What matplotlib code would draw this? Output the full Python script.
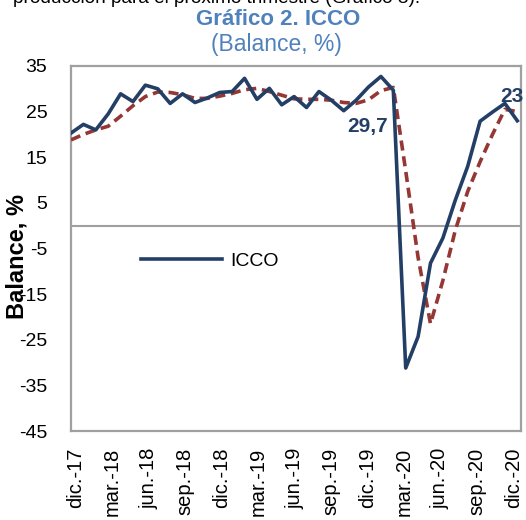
import numpy as np
import matplotlib
matplotlib.use("Agg")
import matplotlib.pyplot as plt
import matplotlib.transforms as mtransforms

plt.rcParams['font.family'] = ['Liberation Sans', 'DejaVu Sans']
plt.rcParams['axes.unicode_minus'] = False

# meses dic-17 ... dic-20
months = ['dic.-17', 'ene.-18', 'feb.-18', 'mar.-18', 'abr.-18', 'may.-18', 'jun.-18',
          'jul.-18', 'ago.-18', 'sep.-18', 'oct.-18', 'nov.-18', 'dic.-18',
          'ene.-19', 'feb.-19', 'mar.-19', 'abr.-19', 'may.-19', 'jun.-19',
          'jul.-19', 'ago.-19', 'sep.-19', 'oct.-19', 'nov.-19', 'dic.-19',
          'ene.-20', 'feb.-20', 'mar.-20', 'abr.-20', 'may.-20', 'jun.-20',
          'jul.-20', 'ago.-20', 'sep.-20', 'oct.-20', 'nov.-20', 'dic.-20']

# ICCO (balance, %)
icco = [20.3, 22.2, 21.0, 24.5, 28.9, 27.2, 30.8, 30.0, 26.8, 28.9, 27.0, 28.0, 29.2,
        29.4, 32.3, 27.7, 30.1, 26.5, 28.3, 25.9, 29.4, 27.5, 25.2, 27.5, 30.4,
        32.7, 29.7, -31.2, -24.3, -8.2, -2.7, 5.6, 13.0, 22.9, 24.9, 26.8, 23.0]

# media movil (linea discontinua)
icco_mm = [18.8, 20.0, 21.0, 21.8, 24.0, 26.3, 28.3, 29.3, 29.2, 28.7, 27.9, 27.9, 28.4,
           29.0, 29.8, 30.1, 29.4, 28.6, 27.8, 27.7, 27.7, 27.5, 27.0, 26.8, 27.6,
           29.6, 30.3, 12.0, -7.0, -21.5, -12.0, -1.0, 7.5, 14.0, 20.0, 25.5, 25.0]

navy = '#243F66'
red = '#953735'
blue_title = '#4F81BD'
grey = '#A0A0A0'

fig = plt.figure(figsize=(5.26, 5.2), dpi=100)
ax = fig.add_axes([71/526, 1-431/520, 450/526, 365/520])

x = np.arange(len(months))
ax.plot(x, icco_mm, color=red, lw=2.6, dashes=(2.8, 1.6), dash_capstyle='butt', zorder=3)
ax.plot(x, icco, color=navy, lw=2.6, solid_joinstyle='round', label='ICCO', zorder=4)

ax.axhline(0, color=grey, lw=1.5, zorder=1)

ax.set_xlim(0, 36.3)
ax.set_ylim(-45, 35)
ax.set_yticks(np.arange(-45, 36, 10))
ax.set_xticks(x[::3])
ax.set_xticklabels(months[::3], rotation=90)
ax.tick_params(axis='both', length=0, labelsize=14)
ax.tick_params(axis='x', labelsize=14.5, pad=12)
ax.tick_params(axis='y', pad=17)

# etiquetas del eje x algo mas juntas, como en el original
labs = ax.get_xticklabels()
for k, lab in enumerate(labs):
    dx = 5 - 9 * k / (len(labs) - 1)
    lab.set_transform(lab.get_transform() +
                      mtransforms.ScaledTranslation(dx/100, 0, fig.dpi_scale_trans))

for s in ax.spines.values():
    s.set_color(grey)
    s.set_linewidth(1.6)

ax.set_ylabel('Balance, %', fontsize=17, fontweight='bold')
ax.yaxis.set_label_coords(-0.094, 0.477)

ax.legend(loc='center left', bbox_to_anchor=(0.155, 0.466), frameon=False,
          fontsize=14, handlelength=4.2, handletextpad=0.4, borderpad=0, borderaxespad=0)

ax.text(25.6, 29.7 - 8.0, '29,7', color=navy, fontsize=15, fontweight='bold',
        ha='right', va='center')
ax.text(35.55, 23 + 5.3, '23', color=navy, fontsize=15, fontweight='bold',
        ha='center', va='center', clip_on=False)

fig.text(278/526, 1 - 19.5/520, 'Gráfico 2. ICCO', color=blue_title, fontsize=16,
         fontweight='bold', ha='center', va='center')
fig.text(276/526, 1 - 45/520, '(Balance, %)', color=blue_title, fontsize=16.5,
         ha='center', va='center')
fig.text(13/526, 1 - 3/520, 'producción para el próximo trimestre (Gráfico 3).',
         color='black', fontsize=13.7, ha='left', va='baseline')

fig.savefig('out.png', dpi=100)
